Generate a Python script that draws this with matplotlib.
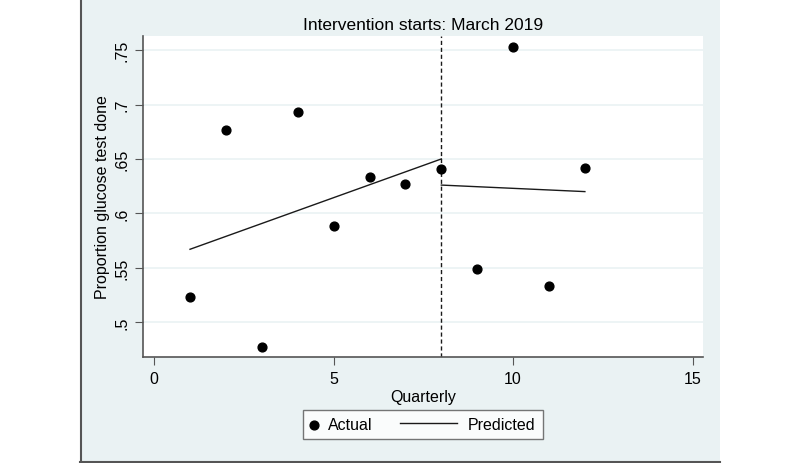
import matplotlib
matplotlib.use('Agg')
import matplotlib.pyplot as plt
from matplotlib.patches import Rectangle
from matplotlib.lines import Line2D
from matplotlib.legend_handler import HandlerLine2D

plt.rcParams['font.family'] = ['Liberation Sans', 'DejaVu Sans']

quarter = [1, 2, 3, 4, 5, 6, 7, 8, 9, 10, 11, 12]
actual = [0.523, 0.677, 0.477, 0.693, 0.588, 0.633, 0.627, 0.641, 0.549, 0.753, 0.533, 0.642]

pre_x = [1, 8]
pre_pred = [0.567, 0.650]
post_x = [8, 12]
post_pred = [0.626, 0.620]

intervention = 8
yticks = [0.5, 0.55, 0.6, 0.65, 0.7, 0.75]
ytick_labels = ['.5', '.55', '.6', '.65', '.7', '.75']
xticks = [0, 5, 10, 15]


class WideLine(HandlerLine2D):
    # longer handle for the line entry only
    def legend_artist(self, legend, orig_handle, fontsize, handlebox):
        handlebox.width = 3.6 * fontsize
        return super().legend_artist(legend, orig_handle, fontsize, handlebox)


bg = '#eaf2f3'
fig = plt.figure(figsize=(8, 4.64), dpi=100)
fig.patch.set_facecolor('white')

# stata graph region
fig.patches.append(Rectangle((80 / 800, 0), 640 / 800, 1, transform=fig.transFigure,
                             facecolor=bg, edgecolor='none', zorder=-10))
fig.lines.append(Line2D([81 / 800, 81 / 800], [0, 1], transform=fig.transFigure, color='#555555', lw=1.5, zorder=-9))
fig.lines.append(Line2D([80 / 800, 720 / 800], [1.5 / 464, 1.5 / 464], transform=fig.transFigure,
                        color='#555555', lw=1.5, zorder=-9))

ax = fig.add_axes([143 / 800, 1 - 358 / 464, 560 / 800, 321 / 464])
ax.set_zorder(1)
ax.set_facecolor('white')

pts = ax.scatter(quarter, actual, s=40, color='black', zorder=3, label='Actual')
ln, = ax.plot(pre_x, pre_pred, color='#1a1a1a', lw=1.0, label='Predicted')
ax.plot(post_x, post_pred, color='#1a1a1a', lw=1.0)
ax.axvline(intervention, color='#1a1a1a', lw=1.0, ls=(0, (3, 2)))

ax.set_xlim(-0.31, 15.29)
ax.set_ylim(0.468, 0.763)
ax.set_xticks(xticks)
ax.set_yticks(yticks)
ax.set_yticklabels(ytick_labels, rotation=90, va='center')
ax.grid(axis='y', color=bg, lw=1.2)
ax.set_axisbelow(True)

for s in ['top', 'right']:
    ax.spines[s].set_visible(False)
for s in ['left', 'bottom']:
    ax.spines[s].set_color('#555555')
    ax.spines[s].set_linewidth(1.2)
ax.tick_params(axis='both', direction='out', length=6, color='#555555', labelsize=11.5, pad=4)

ax.set_xlabel('Quarterly', fontsize=11.5, labelpad=2)
ax.set_ylabel('Proportion glucose test done', fontsize=11.5, labelpad=3)
ax.set_title('Intervention starts: March 2019', fontsize=12.5, pad=5)

leg = ax.legend([pts, ln], ['Actual', 'Predicted'], handler_map={ln: WideLine()},
                loc='center', bbox_to_anchor=(423 / 800, 1 - 425.5 / 464), bbox_transform=fig.transFigure,
                ncol=2, fontsize=11.5, frameon=True, fancybox=False, edgecolor='#555555',
                handlelength=0.45, columnspacing=1.7, borderpad=0.45, handletextpad=0.66)
leg.get_frame().set_linewidth(1.0)

plt.savefig('out.png', dpi=100)
